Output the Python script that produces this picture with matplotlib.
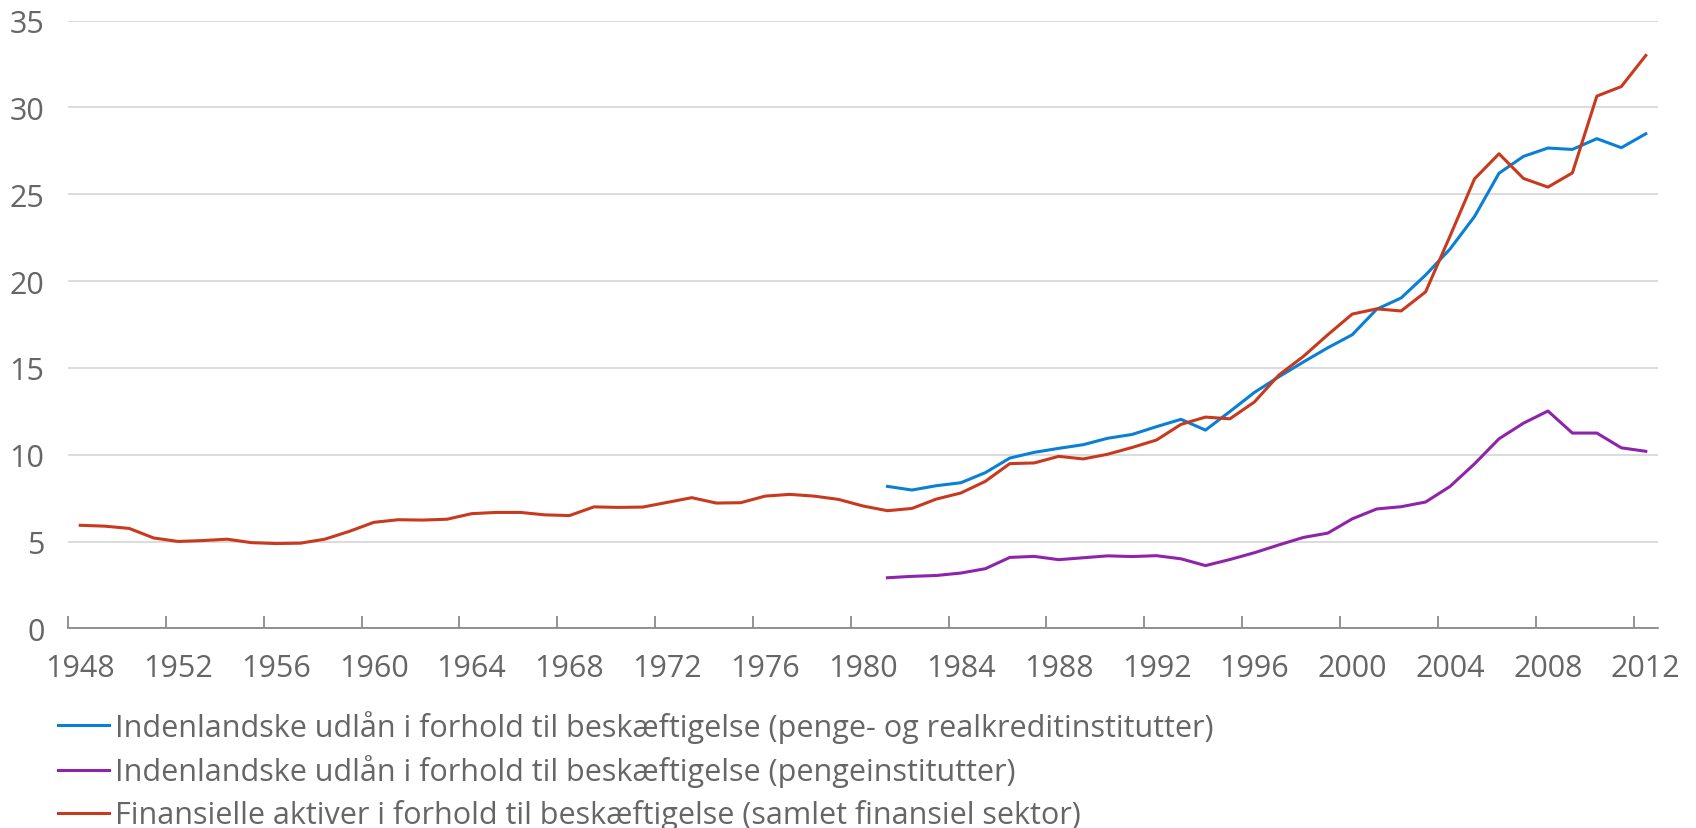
import matplotlib.pyplot as plt
import numpy as np

years = np.arange(1948, 2013)

# Finansielle aktiver i forhold til beskæftigelse (samlet finansiel sektor), 1948-2012
finansielle = [
    5.94, 5.89, 5.76, 5.21, 5.01, 5.06, 5.14, 4.94, 4.89, 4.91,
    5.14, 5.59, 6.11, 6.26, 6.24, 6.29, 6.61, 6.68, 6.68, 6.54,
    6.50, 7.00, 6.97, 6.99, 7.26, 7.53, 7.22, 7.24, 7.62, 7.72,
    7.62, 7.43, 7.05, 6.78, 6.91, 7.45, 7.80, 8.47, 9.49, 9.53,
    9.91, 9.76, 10.03, 10.42, 10.85, 11.75, 12.17, 12.07, 13.04, 14.59,
    15.66, 16.91, 18.10, 18.40, 18.28, 19.38, 22.60, 25.89, 27.33, 25.91,
    25.41, 26.23, 30.65, 31.20, 32.99,
]

# Indenlandske udlån (penge- og realkreditinstitutter), 1981-2012
udlaan_alle_years = np.arange(1981, 2013)
udlaan_alle = [
    8.18, 7.97, 8.22, 8.39, 8.97, 9.81, 10.14, 10.37, 10.58, 10.95,
    11.17, 11.62, 12.04, 11.42, 12.49, 13.59, 14.49, 15.34, 16.16, 16.91,
    18.38, 19.03, 20.35, 21.85, 23.72, 26.21, 27.18, 27.66, 27.58, 28.20,
    27.68, 28.48,
]

# Indenlandske udlån (pengeinstitutter), 1981-2012
udlaan_penge = [
    2.92, 3.00, 3.05, 3.19, 3.44, 4.09, 4.15, 3.96, 4.07, 4.18,
    4.14, 4.19, 4.01, 3.62, 3.97, 4.36, 4.81, 5.24, 5.49, 6.31,
    6.88, 7.01, 7.28, 8.18, 9.48, 10.92, 11.82, 12.52, 11.25, 11.25,
    10.40, 10.20,
]

labels = [
    "Indenlandske udlån i forhold til beskæftigelse (penge- og realkreditinstitutter)",
    "Indenlandske udlån i forhold til beskæftigelse (pengeinstitutter)",
    "Finansielle aktiver i forhold til beskæftigelse (samlet finansiel sektor)",
]
colors = ["#0a7fd6", "#8e24aa", "#c8391e"]
text_color = "#666666"

plt.rcParams['font.family'] = ['Open Sans', 'DejaVu Sans']

fig = plt.figure(figsize=(16.96, 8.29), dpi=100)
ax = fig.add_axes([0.0401, 0.2407, 0.9375, 0.7333])

ax.plot(udlaan_alle_years, udlaan_alle, color=colors[0], lw=2.2, label=labels[0])
ax.plot(udlaan_alle_years, udlaan_penge, color=colors[1], lw=2.2, label=labels[1])
ax.plot(years, finansielle, color=colors[2], lw=2.2, label=labels[2])

ax.set_xlim(1947.5, 2012.5)
ax.set_ylim(0, 35)
ax.set_yticks(np.arange(0, 36, 5))
ax.grid(axis='y', color='#d9d9d9', lw=1.3)
ax.set_axisbelow(True)

# ticks at category boundaries, labels centred on the year
ax.set_xticks(np.arange(1947.5, 2012, 4))
ax.set_xticklabels([])
ax.set_xticks(np.arange(1948, 2013, 4), minor=True)
ax.set_xticklabels([str(y) for y in range(1948, 2013, 4)], minor=True)
ax.tick_params(axis='x', which='major', direction='in', length=9, color='#808080', width=1.2)
ax.tick_params(axis='x', which='minor', length=0, pad=17.5, labelsize=22, labelcolor=text_color)
ax.tick_params(axis='y', length=0, pad=17, labelsize=22, labelcolor=text_color)

for s in ['top', 'right', 'left']:
    ax.spines[s].set_visible(False)
ax.spines['bottom'].set_color('#808080')
ax.spines['bottom'].set_linewidth(1.2)

leg = fig.legend(loc='upper left', bbox_to_anchor=(0.0343, 0.1427), frameon=False,
                 fontsize=22, handlelength=1.67, handletextpad=0.2, labelspacing=0.385,
                 borderaxespad=0, borderpad=0)
for t in leg.get_texts():
    t.set_color(text_color)

fig.savefig("out.png", dpi=100)
